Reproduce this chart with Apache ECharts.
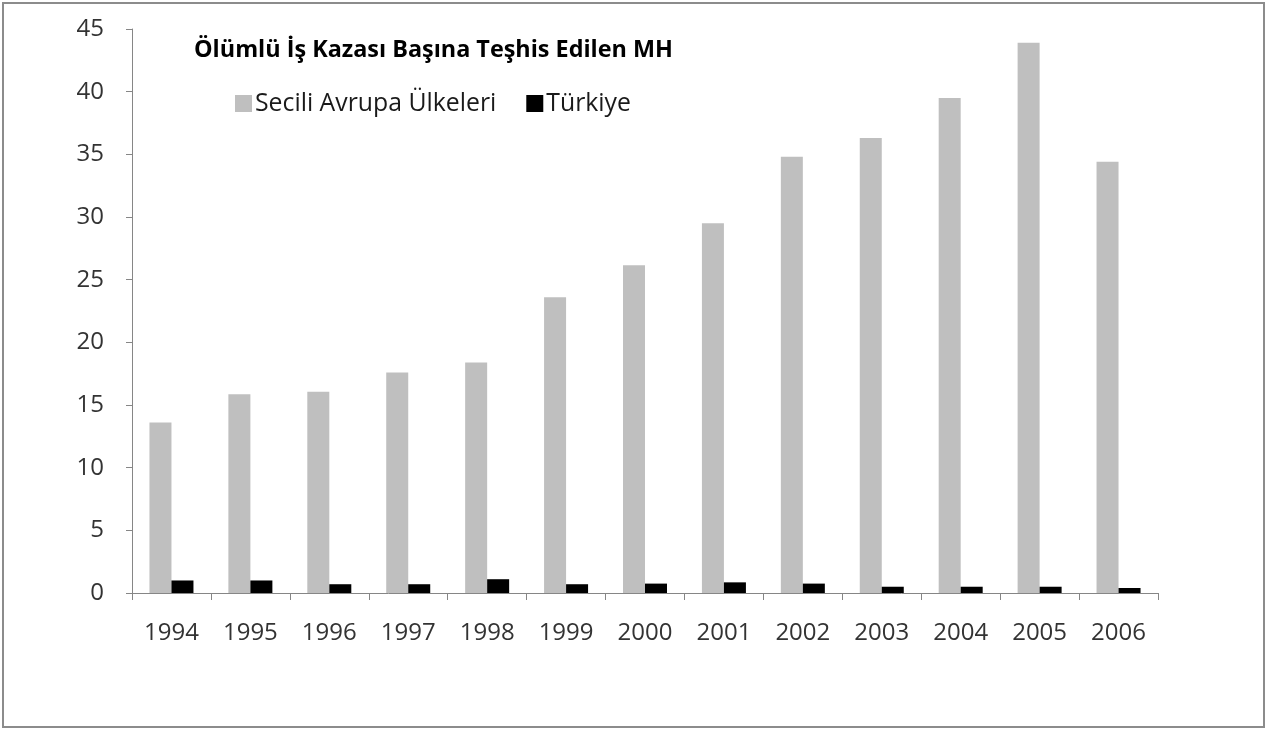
<!DOCTYPE html>
<html>
<head>
<meta charset="utf-8">
<script src="https://cdn.jsdelivr.net/npm/echarts@6/dist/echarts.min.js"></script>
<style>
html,body{margin:0;padding:0;background:#fff;}
#c{width:1269px;height:731px;}
</style>
</head>
<body>
<div id="c"></div>
<script>
const years = ['1994','1995','1996','1997','1998','1999','2000','2001','2002','2003','2004','2005','2006'];
const europe = [13.6, 15.85, 16.05, 17.6, 18.4, 23.6, 26.15, 29.5, 34.8, 36.3, 39.5, 43.9, 34.4];
const turkey = [1.0, 1.0, 0.7, 0.7, 1.1, 0.7, 0.75, 0.85, 0.75, 0.5, 0.5, 0.5, 0.4];
const titleText = 'Ölümlü İş Kazası Başına Teşhis Edilen MH';
const seriesNames = ['Secili Avrupa Ülkeleri', 'Türkiye'];

const chart = echarts.init(document.getElementById('c'), null, {renderer: 'canvas'});
const font = 'Open Sans';
chart.setOption({
  backgroundColor: '#fff',
  animation: false,
  title: {
    text: titleText,
    left: 189, top: 34,
    textStyle: {fontFamily: font, fontWeight: 'bold', fontSize: 23.4, color: '#000'}
  },
  legend: {
    left: 230, top: 86,
    itemWidth: 17, itemHeight: 17, itemGap: 30,
    icon: 'rect',
    textStyle: {fontFamily: font, fontSize: 24.8, color: '#1a1a1a', padding: [0,0,0,-2]},
    data: seriesNames
  },
  graphic: [{
    type: 'rect',
    shape: {x: 3, y: 3, width: 1261, height: 724},
    style: {fill: 'none', stroke: '#8c8c8c', lineWidth: 2},
    silent: true
  }],
  grid: {left: 132, right: 111, top: 29, bottom: 138, containLabel: false},
  xAxis: {
    type: 'category',
    data: years,
    axisLine: {lineStyle: {color: '#868686', width: 1}},
    axisTick: {show: true, length: 7, lineStyle: {color: '#868686'}},
    axisLabel: {fontFamily: font, fontSize: 24, color: '#333', margin: 28}
  },
  yAxis: {
    type: 'value',
    min: 0, max: 45, interval: 5,
    splitLine: {show: false},
    axisLine: {show: true, lineStyle: {color: '#868686', width: 1}},
    axisTick: {show: true, length: 6, lineStyle: {color: '#868686'}},
    axisLabel: {fontFamily: font, fontSize: 24, color: '#333', margin: 28}
  },
  series: [
    {name: seriesNames[0], type: 'bar', data: europe, barWidth: 22, barGap: '0%',
     itemStyle: {color: '#bfbfbf'}},
    {name: seriesNames[1], type: 'bar', data: turkey, barWidth: 22, barGap: '0%',
     itemStyle: {color: '#000000'}}
  ]
});
</script>
</body>
</html>
